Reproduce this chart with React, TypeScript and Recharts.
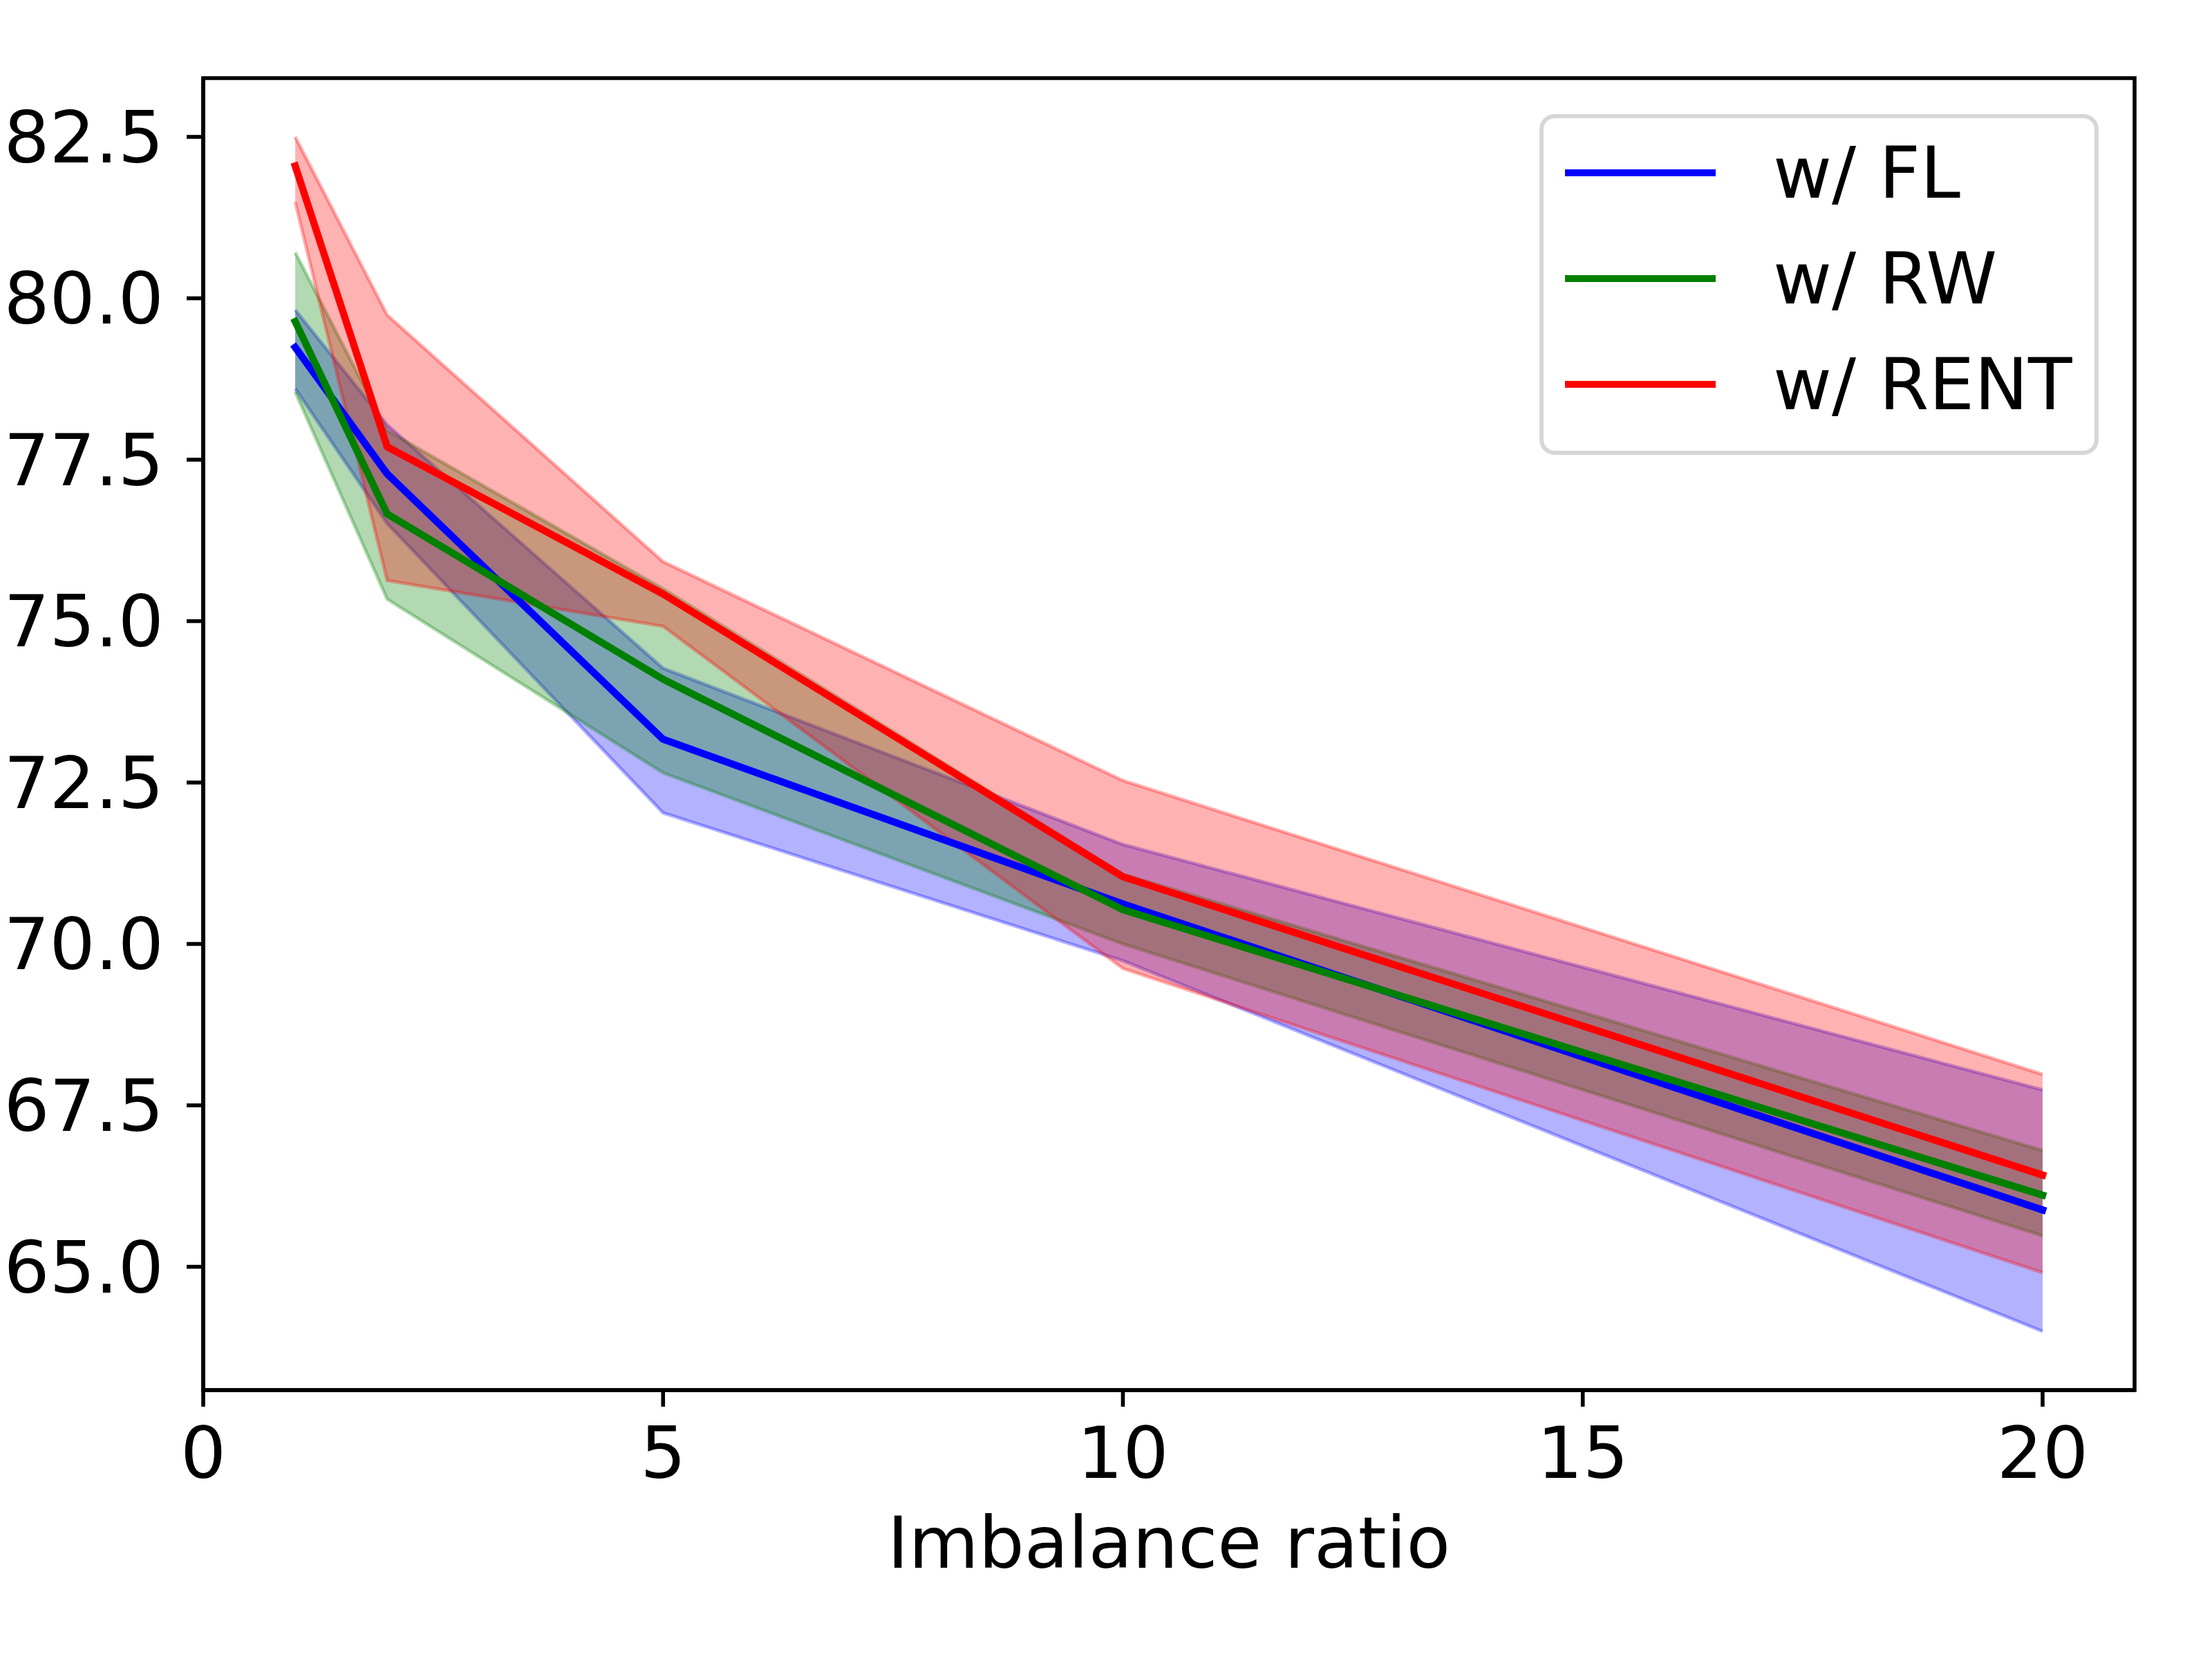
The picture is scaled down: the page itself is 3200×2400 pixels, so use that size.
import { ComposedChart, Area, Line, XAxis, YAxis, Legend, ReferenceArea } from 'recharts';

const FONT = '"DejaVu Sans", sans-serif';

const ratios = [1, 2, 5, 10, 20];

const flMean = [79.24, 77.28, 73.17, 70.62, 65.88];
const flUpper = [79.82, 78.04, 74.27, 71.54, 67.74];
const flLower = [78.6, 76.51, 72.03, 69.74, 64.0];

const rwMean = [79.64, 76.66, 74.1, 70.53, 66.11];
const rwUpper = [80.71, 77.95, 75.5, 71.08, 66.8];
const rwLower = [78.55, 75.34, 72.65, 70.0, 65.48];

const rentMean = [82.05, 77.7, 75.42, 71.04, 66.42];
const rentUpper = [82.5, 79.74, 75.92, 72.53, 67.98];
const rentLower = [81.49, 75.63, 74.92, 69.62, 64.91];

const xTicks = [0, 5, 10, 15, 20];
const yTicks = [65, 67.5, 70, 72.5, 75, 77.5, 80, 82.5];
const X_DOMAIN = [0, 21];
const Y_DOMAIN = [63.09, 83.41];

const SERIES = [
  { key: 'fl', name: 'w/ FL', color: '#0000ff' },
  { key: 'rw', name: 'w/ RW', color: '#008000' },
  { key: 'rent', name: 'w/ RENT', color: '#ff0000' },
];

const data = ratios.map((x, i) => ({
  x,
  fl: flMean[i],
  flBand: [flLower[i], flUpper[i]],
  rw: rwMean[i],
  rwBand: [rwLower[i], rwUpper[i]],
  rent: rentMean[i],
  rentBand: [rentLower[i], rentUpper[i]],
}));

const SPINE = 5.6;

function LegendBox({ payload }: { payload?: any[] }) {
  const items = (payload ?? [])
    .filter((p) => p.type !== 'none')
    .sort(
      (a, b) =>
        SERIES.findIndex((s) => s.name === a.value) - SERIES.findIndex((s) => s.name === b.value),
    );
  return (
    <div
      style={{
        width: 809,
        height: 493,
        boxSizing: 'border-box',
        border: '6px solid #d6d6d6',
        borderRadius: 22,
        background: 'rgba(255,255,255,0.8)',
        paddingTop: 2,
        fontFamily: FONT,
      }}
    >
      {items.map((item) => (
        <div key={item.value} style={{ height: 153, display: 'flex', alignItems: 'center' }}>
          <div style={{ marginLeft: 31, width: 218, height: 10, background: item.color }} />
          <span style={{ marginLeft: 83, fontSize: 104, color: '#000', lineHeight: 1 }}>{item.value}</span>
        </div>
      ))}
    </div>
  );
}

export default function App() {
  const tickStyle = { fontSize: 104, fill: '#000', fontFamily: FONT };
  return (
    <div style={{ position: 'absolute', left: 0, top: 0, width: 3200, height: 2400, background: '#fff', fontFamily: FONT }}>
      <ComposedChart width={3200} height={2400} data={data} margin={{ top: 113, right: 112, bottom: 0, left: 0 }}>
        <XAxis
          type="number"
          dataKey="x"
          domain={X_DOMAIN}
          ticks={xTicks}
          allowDataOverflow
          height={389}
          tick={tickStyle}
          tickSize={24}
          tickMargin={29}
          tickLine={{ stroke: '#000', strokeWidth: SPINE }}
          axisLine={{ stroke: '#000', strokeWidth: SPINE }}
          label={{ value: 'Imbalance ratio', position: 'insideBottom', offset: 132, fontSize: 104, fill: '#000', fontFamily: FONT }}
        />
        <YAxis
          type="number"
          domain={Y_DOMAIN}
          ticks={yTicks}
          allowDataOverflow
          width={294}
          tick={tickStyle}
          tickSize={24}
          tickMargin={33}
          tickFormatter={(v: number) => v.toFixed(1)}
          tickLine={{ stroke: '#000', strokeWidth: SPINE }}
          axisLine={{ stroke: '#000', strokeWidth: SPINE }}
        />
        {SERIES.map((s) => (
          <Area
            key={`${s.key}-band`}
            type="linear"
            dataKey={`${s.key}Band`}
            fill={s.color}
            fillOpacity={0.3}
            stroke={s.color}
            strokeOpacity={0.3}
            strokeWidth={5}
            legendType="none"
            isAnimationActive={false}
          />
        ))}
        {SERIES.map((s) => (
          <Line
            key={s.key}
            type="linear"
            dataKey={s.key}
            name={s.name}
            stroke={s.color}
            strokeWidth={10.4}
            strokeLinejoin="round"
            strokeLinecap="square"
            dot={false}
            activeDot={false}
            isAnimationActive={false}
          />
        ))}
        {/* axes frame (top and right spines) */}
        <ReferenceArea
          x1={X_DOMAIN[0]}
          x2={X_DOMAIN[1]}
          y1={Y_DOMAIN[0]}
          y2={Y_DOMAIN[1]}
          fill="none"
          fillOpacity={0}
          stroke="#000"
          strokeWidth={SPINE}
          strokeOpacity={1}
          ifOverflow="visible"
        />
        <Legend
          layout="vertical"
          align="center"
          verticalAlign="middle"
          content={(props: any) => <LegendBox payload={props.payload} />}
          wrapperStyle={{ left: 2227, top: 165, width: 809, height: 493 }}
        />
      </ComposedChart>
    </div>
  );
}
